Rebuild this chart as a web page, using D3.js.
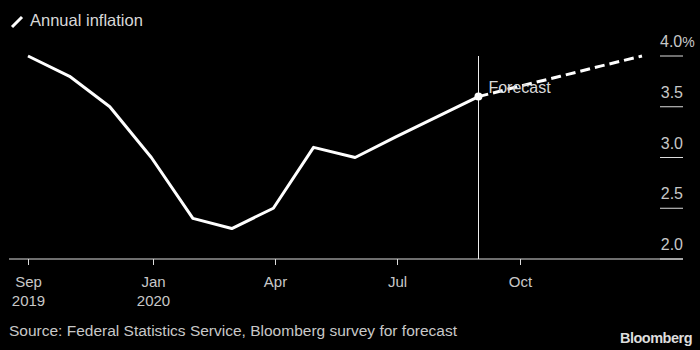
<!DOCTYPE html>
<html lang="en">
<head>
  <meta charset="UTF-8">
  <title>Annual inflation</title>
  <script src="https://d3js.org/d3.v7.min.js"></script>
  <style>
    body {
      margin: 0;
      background: #000;
    }
    svg {
      display: block;
      background: #000;
      font-family: "Liberation Sans", Arial, sans-serif;
    }
  </style>
</head>
<body>
<svg width="700" height="350"></svg>

<script>
  // Actual monthly readings (end of month)
  const actualDates = ["2019-09-30", "2019-10-31", "2019-11-30", "2019-12-31",
    "2020-01-31", "2020-02-29", "2020-03-31", "2020-04-30", "2020-05-31",
    "2020-06-30", "2020-07-31", "2020-08-31"];
  const actualValues = [4.0, 3.8, 3.5, 3.0, 2.4, 2.3, 2.5, 3.1, 3.0, 3.2, 3.4, 3.6];

  // Forecast path, starting at the last actual point
  const forecastDates = ["2020-08-31", "2020-09-30", "2020-10-31", "2020-11-30", "2020-12-31"];
  const forecastValues = [3.6, 3.7, 3.8, 3.9, 4.0];

  // Axis ticks
  const xTickDates = ["2019-09-30", "2020-01-01", "2020-04-01", "2020-07-01", "2020-10-01"];
  const xTickMonths = ["Sep", "Jan", "Apr", "Jul", "Oct"];
  const xTickYears = ["2019", "2020", "", "", ""];
  const yTicks = [2.0, 2.5, 3.0, 3.5, 4.0];

  const parse = d3.timeParse("%Y-%m-%d");
  const actual = actualDates.map((d, i) => ({ date: parse(d), value: actualValues[i] }));
  const forecast = forecastDates.map((d, i) => ({ date: parse(d), value: forecastValues[i] }));

  const svg = d3.select("svg");

  const x = d3.scaleTime()
    .domain([parse("2019-09-30"), parse("2020-12-31")])
    .range([28, 642]);

  const y = d3.scaleLinear()
    .domain([2, 4])
    .range([259, 56]);

  const textColor = "#c8c8c8";

  // legend / title
  svg.append("line")
    .attr("x1", 12).attr("y1", 27)
    .attr("x2", 22).attr("y2", 17)
    .attr("stroke", "#fff")
    .attr("stroke-width", 3);

  svg.append("text")
    .attr("x", 30)
    .attr("y", 26)
    .attr("fill", "#d8d8d8")
    .style("font-size", "16.5px")
    .text("Annual inflation");

  // y axis: short tick rules with labels above them
  const yAxis = svg.append("g");
  yAxis.selectAll("line")
    .data(yTicks)
    .join("line")
    .attr("x1", 660).attr("x2", 683)
    .attr("y1", d => y(d)).attr("y2", d => y(d))
    .attr("stroke", "#ddd")
    .attr("stroke-width", 1);

  yAxis.selectAll("text")
    .data(yTicks)
    .join("text")
    .attr("x", 683)
    .attr("y", d => y(d) - 9)
    .attr("text-anchor", "end")
    .attr("fill", textColor)
    .style("font-size", "16px")
    .text(d => d.toFixed(1))
    .filter(d => d === 4)
    .text(null)
    .call(t => {
      t.append("tspan").text("4.0");
      t.append("tspan").style("font-size", "14px").text("%");
    })
    .attr("text-anchor", "start")
    .attr("x", 660);

  // x axis baseline
  svg.append("line")
    .attr("x1", 9).attr("x2", 683)
    .attr("y1", y(2)).attr("y2", y(2))
    .attr("stroke", "#ddd")
    .attr("stroke-width", 1);

  const xTicks = svg.append("g")
    .selectAll("g")
    .data(xTickDates)
    .join("g")
    .attr("transform", d => `translate(${Math.round(x(parse(d))) + 0.5},${y(2)})`);

  xTicks.append("line")
    .attr("y1", 0).attr("y2", 6)
    .attr("stroke", "#ddd");

  xTicks.append("text")
    .attr("y", 28)
    .attr("text-anchor", "middle")
    .attr("fill", textColor)
    .style("font-size", "15px")
    .text((d, i) => xTickMonths[i]);

  xTicks.append("text")
    .attr("y", 47)
    .attr("text-anchor", "middle")
    .attr("fill", textColor)
    .style("font-size", "15px")
    .text((d, i) => xTickYears[i]);

  // forecast marker line
  const lastActual = actual[actual.length - 1];
  svg.append("line")
    .attr("x1", Math.round(x(lastActual.date)) + 0.5)
    .attr("x2", Math.round(x(lastActual.date)) + 0.5)
    .attr("y1", y(4))
    .attr("y2", y(2))
    .attr("stroke", "#eee")
    .attr("stroke-width", 1);

  const line = d3.line()
    .x(d => x(d.date))
    .y(d => y(d.value));

  svg.append("path")
    .datum(forecast)
    .attr("d", line)
    .attr("fill", "none")
    .attr("stroke", "#fff")
    .attr("stroke-width", 3)
    .attr("stroke-dasharray", "10,5");

  svg.append("path")
    .datum(actual)
    .attr("d", line)
    .attr("fill", "none")
    .attr("stroke", "#fff")
    .attr("stroke-width", 3)
    .attr("stroke-linejoin", "round");

  svg.append("circle")
    .attr("cx", x(lastActual.date))
    .attr("cy", y(lastActual.value))
    .attr("r", 4)
    .attr("fill", "#fff");

  svg.append("text")
    .attr("x", x(lastActual.date) + 10)
    .attr("y", y(lastActual.value) - 4)
    .attr("fill", "#d8d8d8")
    .style("font-size", "16px")
    .text("Forecast");

  // footer
  svg.append("text")
    .attr("x", 9)
    .attr("y", 336)
    .attr("fill", textColor)
    .style("font-size", "15.5px")
    .text("Source: Federal Statistics Service, Bloomberg survey for forecast");

  svg.append("text")
    .attr("x", 692)
    .attr("y", 343)
    .attr("text-anchor", "end")
    .attr("fill", "#ddd")
    .style("font-size", "14.5px")
    .style("font-weight", "bold")
    .style("letter-spacing", "-0.5px")
    .text("Bloomberg");
</script>
</body>
</html>
